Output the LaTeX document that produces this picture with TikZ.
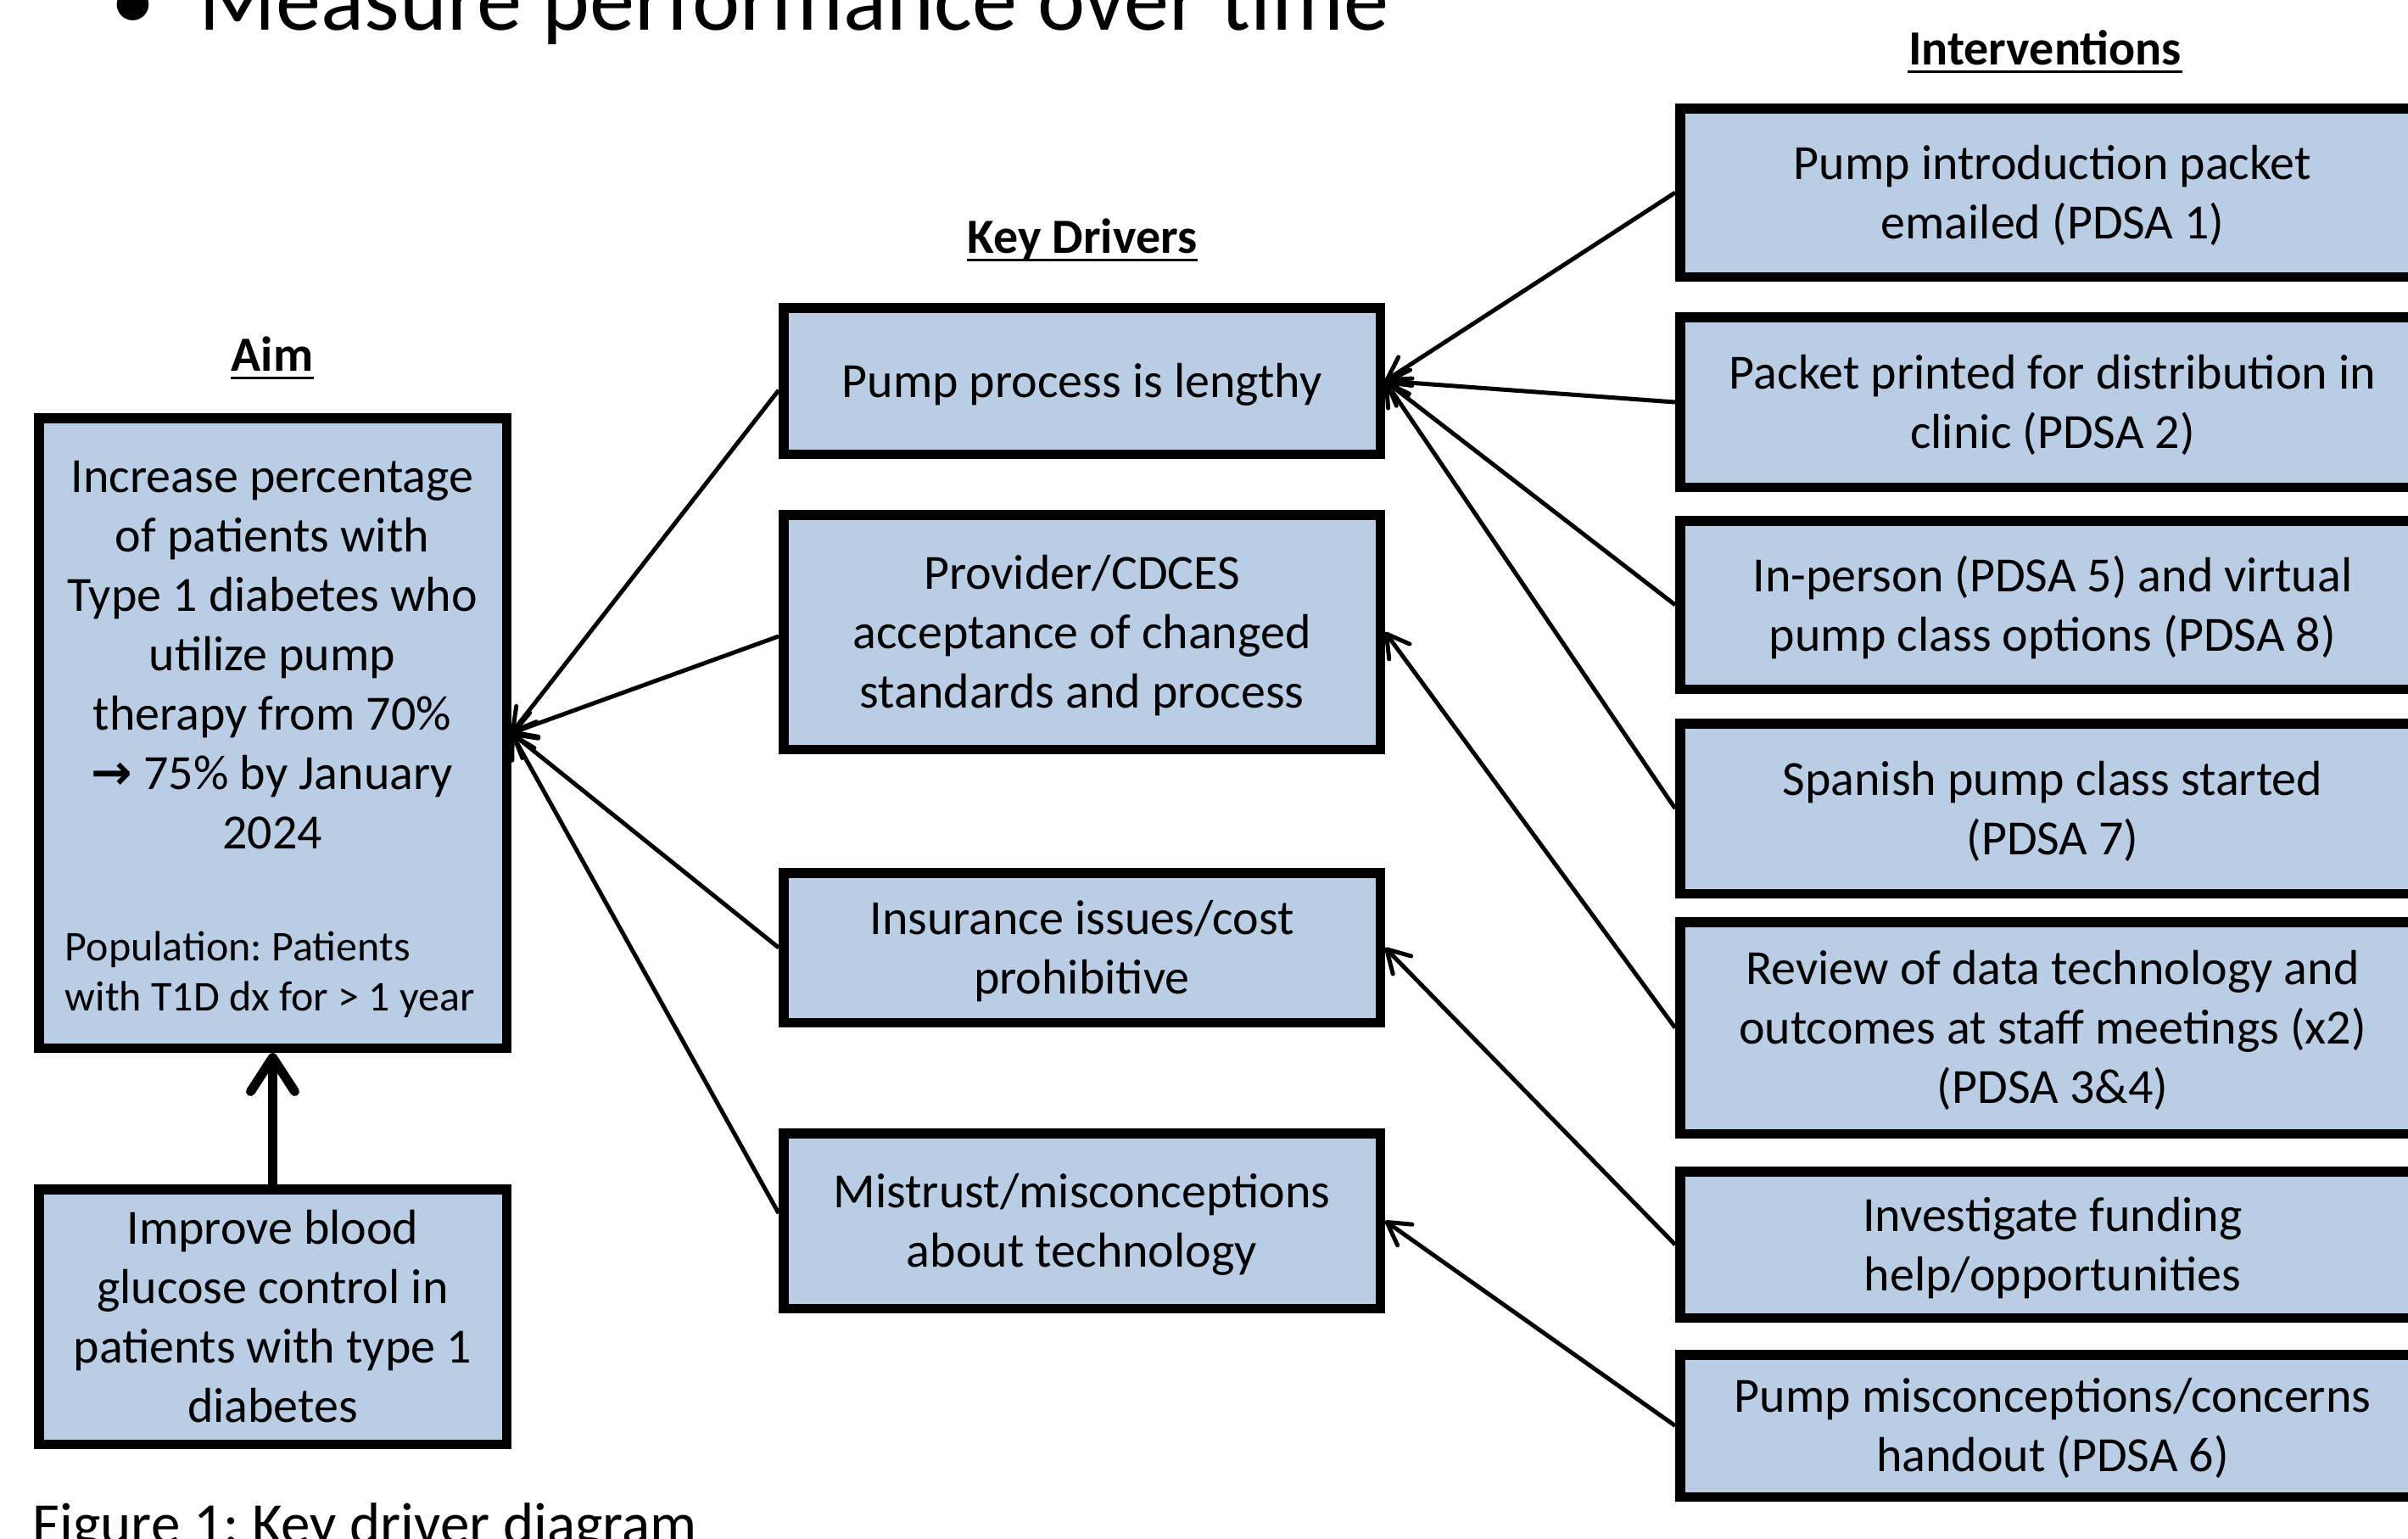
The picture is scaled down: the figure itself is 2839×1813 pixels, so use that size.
\documentclass[tikz,border=0pt]{standalone}
\usepackage{fontspec}
\setmainfont{Carlito}
\newfontfamily\symfont{DejaVu Sans}
\usetikzlibrary{arrows.meta}
\definecolor{boxblue}{RGB}{185,205,229}
\newcommand\bt[1]{\raisebox{-1.3pt}[\height][\depth]{\begin{tabular}{@{}c@{}}#1\end{tabular}}}
\frenchspacing
\begin{document}
\begin{tikzpicture}[x=0.25pt,y=-0.25pt,
  box/.style={draw=black, fill=boxblue, line width=2.875pt, inner sep=0pt,
    font=\fontsize{14.5pt}{17.5pt}\selectfont, text=black},
  conn/.style={line width=1.25pt, -{Straight Barb[length=6.5pt,width=7.5pt,round]}},
  hdr/.style={font=\fontsize{14.5pt}{17.5pt}\selectfont\bfseries, inner sep=0pt, anchor=base},
  uline/.style={line width=0.75pt}
]
\useasboundingbox (0,0) rectangle (2839,1813);

% top clipped text
\node[anchor=base, inner sep=0pt, font=\fontsize{26.6pt}{30pt}\selectfont] (bul) at (157,35) {•};
\node[anchor=base west, inner sep=0pt, font=\fontsize{26.6pt}{30pt}\selectfont] (meas) at (234,35) {Measure performance over time};

% column headers
\node[hdr] (aimlbl) at (321,437) {Aim};
\node[hdr] (kdlbl) at (1276,298) {Key Drivers};
\node[hdr] (intlbl) at (2411,76) {Interventions};
\foreach \n in {aimlbl,kdlbl,intlbl}
  \draw[uline] ([yshift=-2.2pt]\n.base west) -- ([yshift=-2.2pt]\n.base east);

% aim box
\node[box, minimum width=137.875pt, minimum height=185.625pt] (aim) at (321.5,864) {};
\node[inner sep=0pt, align=center, font=\fontsize{14.5pt}{17.5pt}\selectfont] (aimtxt) at (321,772)
  {Increase percentage\\ of patients with\\ Type 1 diabetes who\\ utilize pump\\ therapy from 70\%\\ {\symfont\bfseries →} 75\% by January\\ 2024};
\node[inner sep=0pt, align=left, anchor=west, font=\fontsize{12.5pt}{14.75pt}\selectfont] (poptxt) at (76,1149)
  {Population: Patients\\ with T1D dx for > 1 year};

% improve box
\node[box, minimum width=137.875pt, minimum height=75.125pt] (imp) at (321.5,1552)
  {\bt{Improve blood\\ glucose control in\\ patients with type 1\\ diabetes}};

% key drivers
\node[box, minimum width=175.875pt, minimum height=43.125pt] (kd1) at (1275.5,449) {\bt{Pump process is lengthy}};
\node[box, minimum width=175.875pt, minimum height=69.125pt] (kd2) at (1275.5,745) {\bt{Provider/CDCES\\ acceptance of changed\\ standards and process}};
\node[box, minimum width=175.875pt, minimum height=44.125pt] (kd3) at (1275.5,1117) {\bt{Insurance issues/cost\\ prohibitive}};
\node[box, minimum width=175.875pt, minimum height=51.625pt] (kd4) at (1275.5,1439) {\bt{Mistrust/misconceptions\\ about technology}};

% interventions
\node[box, minimum width=219.625pt, minimum height=49.625pt] (i1) at (2420,227) {\bt{Pump introduction packet\\ emailed (PDSA 1)}};
\node[box, minimum width=219.625pt, minimum height=50.125pt] (i2) at (2420,474) {\bt{Packet printed for distribution in\\ clinic (PDSA 2)}};
\node[box, minimum width=219.625pt, minimum height=49.625pt] (i3) at (2420,713) {\bt{In-person (PDSA 5) and virtual\\ pump class options (PDSA 8)}};
\node[box, minimum width=219.625pt, minimum height=50.125pt] (i4) at (2420,953) {\bt{Spanish pump class started\\ (PDSA 7)}};
\node[box, minimum width=219.625pt, minimum height=62.375pt] (i5) at (2420,1211.5) {\bt{Review of data technology and\\ outcomes at staff meetings (x2)\\ (PDSA 3\&4)}};
\node[box, minimum width=219.625pt, minimum height=43.125pt] (i6) at (2420,1467) {\bt{Investigate funding\\ help/opportunities}};
\node[box, minimum width=219.625pt, minimum height=41.875pt] (i7) at (2420,1680.5) {\bt{Pump misconceptions/concerns\\ handout (PDSA 6)}};

% caption
\node[anchor=base west, inner sep=0pt, font=\fontsize{17.25pt}{20pt}\selectfont] (cap) at (38,1819) {Figure 1: Key driver diagram};

% connectors
\draw[line width=2.75pt, -{Straight Barb[length=10pt,width=13pt,round]}] (imp.north) -- (aim.south);
\draw[conn] ([yshift=-2.75pt]kd1.west) -- (aim.east);
\draw[conn] ([yshift=-1.25pt]kd2.west) -- (aim.east);
\draw[conn] (kd3.west) -- (aim.east);
\draw[conn] ([yshift=2.25pt]kd4.west) -- (aim.east);
\draw[conn] (i1.west) -- (kd1.east);
\draw[conn] (i2.west) -- (kd1.east);
\draw[conn] (i3.west) -- (kd1.east);
\draw[conn] (i4.west) -- (kd1.east);
\draw[conn] (i5.west) -- (kd2.east);
\draw[conn] (i6.west) -- (kd3.east);
\draw[conn] (i7.west) -- (kd4.east);
\end{tikzpicture}
\end{document}
